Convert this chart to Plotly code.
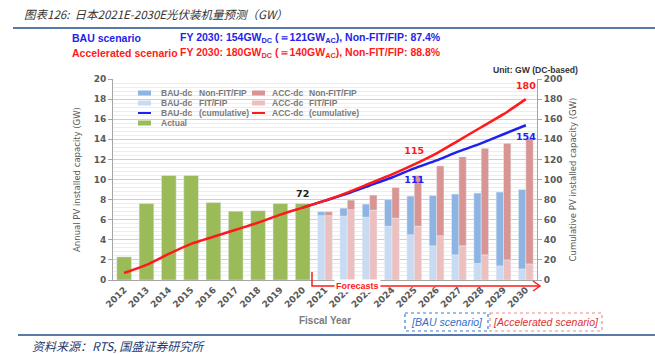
import plotly.graph_objects as go

# ---------------- data ----------------
years = [str(y) for y in range(2012, 2031)]
actual_years = years[:9]            # 2012-2020
forecast_years = years[9:]          # 2021-2030
line_years_fc = years[8:]           # 2020-2030 (lines start at 2020)

actual_annual = [2.3, 7.6, 10.4, 10.4, 7.7, 6.85, 6.9, 7.6, 7.6]
actual_cum = [7, 15, 26, 36, 43, 50, 57, 65, 72]

bau_fit = [6.4, 6.35, 6.25, 5.35, 4.5, 3.4, 2.5, 1.65, 1.4, 1.1]
bau_nonfit = [0.4, 0.8, 1.3, 2.65, 3.85, 5.0, 6.05, 7.0, 7.35, 7.9]
acc_fit = [6.4, 7.0, 6.95, 6.15, 5.35, 4.4, 3.4, 2.5, 2.0, 1.6]
acc_nonfit = [0.4, 0.95, 1.5, 3.05, 5.05, 6.95, 8.85, 10.6, 11.6, 12.5]

bau_cum = [72, 79, 86, 94, 102, 111, 119, 128, 136, 145, 154]
acc_cum = [72, 79, 87, 96, 105, 115, 126, 139, 152, 165, 180]

# ---------------- styles ----------------
GREEN = "#9BBB59"
BAU_DARK = "#8DB4E2"
BAU_LIGHT = "#C9DBF2"
ACC_DARK = "#D99594"
ACC_LIGHT = "#EDC0C0"
RED = "#FF1A1A"
BLUE = "#1F1FF0"
GREY = "#595959"
LGREY = "#7A7A7A"
NAVY = "#1F4E8C"

W, H = 655, 354
PL, PR, PT, PB = 113, 537, 79, 280


def px(x):
    return (x - PL) / (PR - PL)


def py(y):
    return (PB - y) / (PB - PT)


fig = go.Figure()

# actual bars
fig.add_trace(go.Bar(x=actual_years, y=actual_annual, marker_color=GREEN,
                     width=0.66, offset=-0.33, name="Actual", yaxis="y"))
# BAU stacked
fig.add_trace(go.Bar(x=forecast_years, y=bau_fit, marker_color=BAU_LIGHT,
                     width=0.33, offset=-0.33, name="BAU-dc FIT/FIP", yaxis="y"))
fig.add_trace(go.Bar(x=forecast_years, y=bau_nonfit, base=bau_fit, marker_color=BAU_DARK,
                     width=0.33, offset=-0.33, name="BAU-dc Non-FIT/FIP", yaxis="y"))
# ACC stacked
fig.add_trace(go.Bar(x=forecast_years, y=acc_fit, marker_color=ACC_LIGHT,
                     width=0.33, offset=0.0, name="ACC-dc FIT/FIP", yaxis="y"))
fig.add_trace(go.Bar(x=forecast_years, y=acc_nonfit, base=acc_fit, marker_color=ACC_DARK,
                     width=0.33, offset=0.0, name="ACC-dc Non-FIT/FIP", yaxis="y"))

# cumulative lines
fig.add_trace(go.Scatter(x=line_years_fc, y=bau_cum, mode="lines", yaxis="y2",
                         line=dict(color=BLUE, width=2.5, shape="spline", smoothing=0.6),
                         name="BAU-dc (cumulative)"))
fig.add_trace(go.Scatter(x=actual_years + forecast_years, y=actual_cum + acc_cum[1:],
                         mode="lines", yaxis="y2",
                         line=dict(color=RED, width=2.5, shape="spline", smoothing=0.6),
                         name="ACC-dc (cumulative)"))

# value labels as text traces (placed through the axes; invisible marker gives spacing)
lab_specs = [
    ("2020", actual_cum[-1], "#222222", "top center"),
    ("2025", acc_cum[5], RED, "top center"),
    ("2025", bau_cum[5], BLUE, "bottom center"),
    ("2030", acc_cum[-1], RED, "top center"),
    ("2030", bau_cum[-1], BLUE, "bottom center"),
]
for xv, yv, col, pos in lab_specs:
    fig.add_trace(go.Scatter(x=[xv], y=[yv], mode="markers+text", yaxis="y2", text=[str(yv)],
                             textposition=pos, cliponaxis=False, hoverinfo="skip",
                             marker=dict(size=11, opacity=0),
                             textfont=dict(family="DejaVu Sans", size=9.5, color=col,
                                           weight="bold")))

tickfont = dict(family="DejaVu Sans", size=9, color=GREY, weight="bold")

fig.update_layout(
    width=W, height=H,
    margin=dict(l=PL, r=W - PR, t=PT, b=H - PB, pad=0),
    paper_bgcolor="white", plot_bgcolor="white",
    barmode="overlay", showlegend=False,
    xaxis=dict(type="category", categoryorder="array", categoryarray=years,
               range=[-0.5, 18.5], tickangle=-45, tickfont=tickfont,
               showline=True, linecolor="#A6A6A6", linewidth=1, ticks="",
               showgrid=False,
               title=dict(text="Fiscal Year", standoff=8,
                          font=dict(family="Liberation Sans", size=10, color=LGREY, weight="bold"))),
    yaxis=dict(range=[0, 20], dtick=2, tickfont=tickfont, showline=True, linecolor="#A6A6A6",
               ticks="outside", ticklen=4, tickcolor="#A6A6A6",
               gridcolor="#CFCFCF", gridwidth=1, zeroline=False,
               minor=dict(dtick=0.4, showgrid=True, gridcolor="#EDEDED", gridwidth=1),
               title=dict(text="Annual PV installed capacity (GW)", standoff=11,
                          font=dict(family="DejaVu Sans", size=8.5, color=GREY))),
    yaxis2=dict(range=[0, 200], dtick=20, overlaying="y", side="right", tickfont=tickfont,
                showline=True, linecolor="#A6A6A6", ticks="outside", ticklen=4,
                tickcolor="#A6A6A6", showgrid=False, zeroline=False,
                title=dict(text="Cumulative PV installed capacity (GW)", standoff=8,
                           font=dict(family="DejaVu Sans", size=8.5, color=GREY))),
)

shapes = []
ann = []

# top title & rules
ann.append(dict(x=px(22), y=py(14), xref="paper", yref="paper", xanchor="left", yanchor="middle",
                text="<i>图表126:  日本2021E-2030E光伏装机量预测（GW）</i>", showarrow=False,
                font=dict(family="Noto Sans CJK SC", size=11.5, color="#333333")))
shapes.append(dict(type="line", xref="paper", yref="paper", x0=px(13), x1=px(655), y0=py(28), y1=py(28),
                   line=dict(color=NAVY, width=1.5)))
shapes.append(dict(type="line", xref="paper", yref="paper", x0=px(18), x1=px(655), y0=py(335), y1=py(335),
                   line=dict(color=NAVY, width=1.5)))
ann.append(dict(x=px(30), y=py(345), xref="paper", yref="paper", xanchor="left", yanchor="middle",
                text="<i>资料来源：RTS, 国盛证券研究所</i>", showarrow=False,
                font=dict(family="Noto Sans CJK SC", size=12, color="#1F3A70")))

hfont_b = dict(family="Liberation Sans", size=10.5, color="#2424E6", weight="bold")
hfont_r = dict(family="Liberation Sans", size=10.5, color=RED, weight="bold")
ann.append(dict(x=px(70), y=py(38), xref="paper", yref="paper", xanchor="left", yanchor="middle",
                text="BAU scenario", showarrow=False, font=hfont_b))
ann.append(dict(x=px(178), y=py(38), xref="paper", yref="paper", xanchor="left", yanchor="middle",
                text="FY 2030: 154GW<sub>DC</sub> (＝121GW<sub>AC</sub>), Non-FIT/FIP: 87.4%",
                showarrow=False, font=hfont_b))
ann.append(dict(x=px(70), y=py(53), xref="paper", yref="paper", xanchor="left", yanchor="middle",
                text="Accelerated scenario", showarrow=False, font=hfont_r))
ann.append(dict(x=px(178), y=py(53), xref="paper", yref="paper", xanchor="left", yanchor="middle",
                text="FY 2030: 180GW<sub>DC</sub> (＝140GW<sub>AC</sub>), Non-FIT/FIP: 88.8%",
                showarrow=False, font=hfont_r))
ann.append(dict(x=px(535), y=py(70), xref="paper", yref="paper", xanchor="center", yanchor="middle",
                text="Unit: GW (DC-based)", showarrow=False,
                font=dict(family="Liberation Sans", size=8.6, color="#333333", weight="bold")))

# manual legend
shapes.append(dict(type="rect", xref="paper", yref="paper", layer="between",
                   x0=px(134), x1=px(364), y0=py(85), y1=py(129),
                   fillcolor="rgba(255,255,255,0.85)", line=dict(width=0)))
leg_font = dict(family="Liberation Sans", size=8.5, color=LGREY, weight="bold")
legend_rows = [
    (0, 93, "rect", BAU_DARK, "BAU-dc", "Non-FIT/FIP"),
    (0, 103, "rect", BAU_LIGHT, "BAU-dc", "FIT/FIP"),
    (0, 113, "line", BLUE, "BAU-dc", "(cumulative)"),
    (0, 123, "rect", GREEN, "Actual", ""),
    (1, 93, "rect", ACC_DARK, "ACC-dc", "Non-FIT/FIP"),
    (1, 103, "rect", ACC_LIGHT, "ACC-dc", "FIT/FIP"),
    (1, 113, "line", RED, "ACC-dc", "(cumulative)"),
]
for col, yy, kind, color, a, b in legend_rows:
    sx = 138 if col == 0 else 252
    tx = 159 if col == 0 else 270
    dx = 197 if col == 0 else 307
    if kind == "rect":
        shapes.append(dict(type="rect", xref="paper", yref="paper", layer="above",
                           x0=px(sx), x1=px(sx + 13), y0=py(yy - 2.5), y1=py(yy + 2.5),
                           fillcolor=color, line=dict(width=0)))
    else:
        shapes.append(dict(type="line", xref="paper", yref="paper", layer="above",
                           x0=px(sx), x1=px(sx + 13), y0=py(yy), y1=py(yy),
                           line=dict(color=color, width=2)))
    ann.append(dict(x=px(tx), y=py(yy), xref="paper", yref="paper", xanchor="left", yanchor="middle",
                    text=a, showarrow=False, font=leg_font))
    if b:
        ann.append(dict(x=px(dx), y=py(yy), xref="paper", yref="paper", xanchor="left",
                        yanchor="middle", text=b, showarrow=False, font=leg_font))

# forecasts bracket
shapes.append(dict(type="path", xref="paper", yref="paper", layer="above",
                   path=f"M{px(312)},{py(272)} L{px(312)},{py(286)} L{px(539)},{py(286)}",
                   line=dict(color=RED, width=1.5)))
shapes.append(dict(type="path", xref="paper", yref="paper", layer="above",
                   path=f"M{px(533)},{py(281)} L{px(540)},{py(286)} L{px(533)},{py(291)}",
                   line=dict(color=RED, width=1.5)))
ann.append(dict(x=px(357), y=py(286), xref="paper", yref="paper", xanchor="center", yanchor="middle",
                text="Forecasts", showarrow=False, bgcolor="white", borderpad=1,
                font=dict(family="Liberation Sans", size=9, color=RED, weight="bold")))

# scenario boxes
shapes.append(dict(type="rect", xref="paper", yref="paper", x0=px(405), x1=px(488),
                   y0=py(313), y1=py(331), line=dict(color="#3B7DD8", width=1.2, dash="dot")))
shapes.append(dict(type="rect", xref="paper", yref="paper", x0=px(490), x1=px(602),
                   y0=py(313), y1=py(331), line=dict(color="#F08A8A", width=1.2, dash="dot")))
ann.append(dict(x=px(446.5), y=py(322), xref="paper", yref="paper", xanchor="center", yanchor="middle",
                text="<i>[BAU scenario]</i>", showarrow=False,
                font=dict(family="Liberation Sans", size=10.5, color="#2E6FC8")))
ann.append(dict(x=px(546), y=py(322), xref="paper", yref="paper", xanchor="center", yanchor="middle",
                text="<i>[Accelerated scenario]</i>", showarrow=False,
                font=dict(family="Liberation Sans", size=10.5, color="#E03030")))

fig.update_layout(shapes=shapes, annotations=ann)
fig.write_html("out.html")
